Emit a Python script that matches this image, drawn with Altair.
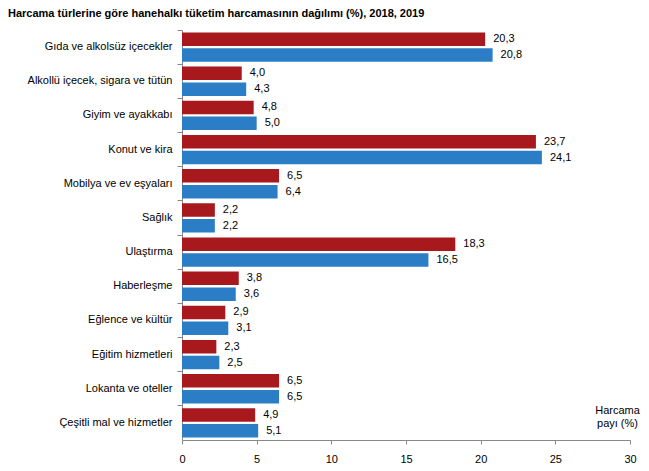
import altair as alt
import pandas as pd

categories = [
    "Gıda ve alkolsüz içecekler",
    "Alkollü içecek, sigara ve tütün",
    "Giyim ve ayakkabı",
    "Konut ve kira",
    "Mobilya ve ev eşyaları",
    "Sağlık",
    "Ulaştırma",
    "Haberleşme",
    "Eğlence ve kültür",
    "Eğitim hizmetleri",
    "Lokanta ve oteller",
    "Çeşitli mal ve hizmetler",
]
values_2018 = [20.3, 4.0, 4.8, 23.7, 6.5, 2.2, 18.3, 3.8, 2.9, 2.3, 6.5, 4.9]
values_2019 = [20.8, 4.3, 5.0, 24.1, 6.4, 2.2, 16.5, 3.6, 3.1, 2.5, 6.5, 5.1]
years = ["2018", "2019"]
colors = ["#A8191E", "#2B7EC6"]
x_ticks = [0, 5, 10, 15, 20, 25, 30]

rows = []
for c, a, b in zip(categories, values_2018, values_2019):
    for y, v in zip(years, (a, b)):
        rows.append({"cat": c, "year": y, "val": v,
                     "lbl": f"{v:.1f}".replace(".", ",")})
df = pd.DataFrame(rows)

FONT = "Liberation Sans"

y_enc = alt.Y("cat:N", sort=categories,
              scale=alt.Scale(paddingInner=0, paddingOuter=0),
              axis=alt.Axis(title=None, bandPosition=0, tickSize=5,
                            labelPadding=5, labelFontSize=11,
                            labelColor="#000000", labelFont=FONT,
                            domainColor="#888888", tickColor="#888888",
                            labelLimit=300))
yoff = alt.YOffset("year:N", scale=alt.Scale(domain=years, paddingInner=0.15,
                                            paddingOuter=0.15))
x_enc = alt.X("val:Q", scale=alt.Scale(domain=[0, 30], nice=False),
              axis=alt.Axis(values=x_ticks, grid=False, tickSize=4,
                            labelFontSize=11, labelColor="#000000",
                            labelFont=FONT, labelPadding=9, labelFlush=False,
                            domainColor="#888888", tickColor="#888888",
                            title=["Harcama", "payı (%)"],
                            titleFont=FONT, titleFontSize=11,
                            titleFontWeight="normal", titleColor="#000000",
                            titleX=435, titleY=-27, titleAlign="center",
                            titleBaseline="alphabetic", titleLineHeight=13))

base = alt.Chart(df)
bars = base.mark_bar().encode(
    x=x_enc, y=y_enc, yOffset=yoff,
    color=alt.Color("year:N", scale=alt.Scale(domain=years, range=colors),
                    legend=None),
)
labels = base.mark_text(align="left", baseline="middle", dx=8,
                        fontSize=11, font=FONT, color="#000000").encode(
    x="val:Q", y=alt.Y("cat:N", sort=categories), yOffset=yoff, text="lbl:N"
)

chart = (bars + labels).properties(
    width=448, height=410,
    autosize=alt.AutoSizeParams(type="none"),
    padding={"left": 174, "top": 22, "right": 11, "bottom": 23},
    title=alt.TitleParams(
        "Harcama türlerine göre hanehalkı tüketim harcamasının dağılımı (%), 2018, 2019",
        anchor="start", frame="group", dx=-174, offset=11, fontSize=11,
        font=FONT, fontWeight="bold", color="#000000"),
).configure_view(stroke=None)

chart.save("out.html", embed_options={"renderer": "svg", "actions": False})
